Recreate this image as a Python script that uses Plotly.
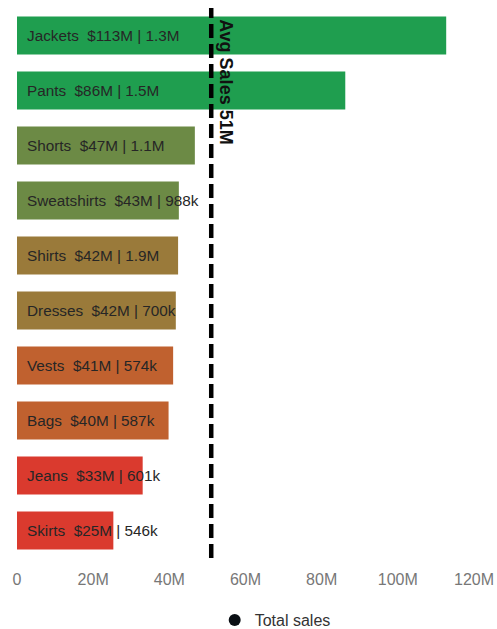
import plotly.graph_objects as go

categories = ["Jackets", "Pants", "Shorts", "Sweatshirts", "Shirts", "Dresses", "Vests", "Bags", "Jeans", "Skirts"]
sales_m = [112.7, 86.2, 46.7, 42.5, 42.3, 41.7, 41.0, 39.8, 33.0, 25.3]
sales_labels = ["$113M", "$86M", "$47M", "$43M", "$42M", "$42M", "$41M", "$40M", "$33M", "$25M"]
units_labels = ["1.3M", "1.5M", "1.1M", "988k", "1.9M", "700k", "574k", "587k", "601k", "546k"]
bar_colors = ["#1f9e4f", "#1f9e4f", "#6c8a45", "#6c8a45", "#9a7a3a", "#9a7a3a",
              "#c0612f", "#c0612f", "#da3a2e", "#da3a2e"]
avg_sales_m = 51
x_ticks_m = [0, 20, 40, 60, 80, 100, 120]
x_tick_text = ["0", "20M", "40M", "60M", "80M", "100M", "120M"]

sales = [v * 1e6 for v in sales_m]

FIG_W, FIG_H = 497, 629

fig = go.Figure()
fig.add_trace(go.Bar(
    y=categories, x=sales, orientation="h",
    marker=dict(color=bar_colors, line=dict(width=0)),
    showlegend=False, hoverinfo="skip",
))
fig.add_trace(go.Scatter(
    x=[None], y=[None], mode="markers", name="Total sales",
    marker=dict(symbol="circle", size=18, color="#0a0f14"),
))

annotations = []
for c, s, u in zip(categories, sales_labels, units_labels):
    annotations.append(dict(
        x=0, y=c, xref="x", yref="y", xanchor="left", yanchor="middle",
        xshift=8, text=f"{c}  {s} | {u}", showarrow=False,
        font=dict(family="Liberation Sans, Arial", size=15.3, color="#262626"),
    ))
annotations.append(dict(
    x=avg_sales_m * 1e6, y=1, xref="x", yref="paper", xanchor="left", yanchor="top",
    xshift=3, yshift=-9, text="<b>Avg Sales 51M</b>", textangle=90, showarrow=False,
    font=dict(family="Liberation Sans, Arial", size=18, color="#111111"),
))

fig.add_shape(type="line", xref="x", yref="paper",
              x0=avg_sales_m * 1e6, x1=avg_sales_m * 1e6, y0=0, y1=1,
              line=dict(color="#000000", width=4.5, dash="14px,6px"))

fig.update_layout(
    width=FIG_W, height=FIG_H,
    margin=dict(l=17, r=23, t=8, b=71, autoexpand=False),
    paper_bgcolor="white", plot_bgcolor="white",
    bargap=0.31,
    annotations=annotations,
    font=dict(family="Liberation Sans, Arial", color="#666666"),
    xaxis=dict(range=[0, 120e6], tickvals=[v * 1e6 for v in x_ticks_m], ticktext=x_tick_text,
               showgrid=False, zeroline=False, showline=False, automargin=False,
               tickfont=dict(size=16, color="#777777"), ticks="", ticklabelstandoff=10),
    yaxis=dict(autorange="reversed", showticklabels=False, showgrid=False,
               zeroline=False, showline=False, automargin=False),
    legend=dict(orientation="h", x=0.565, xanchor="center", yref="container",
                y=9 / FIG_H, yanchor="middle",
                font=dict(size=16, color="#333333"), itemsizing="constant", itemwidth=30),
)

fig.write_html(
    "out.html",
    config={"displayModeBar": False},
    post_script="document.body.style.margin='0';document.body.style.overflow='hidden';",
)
